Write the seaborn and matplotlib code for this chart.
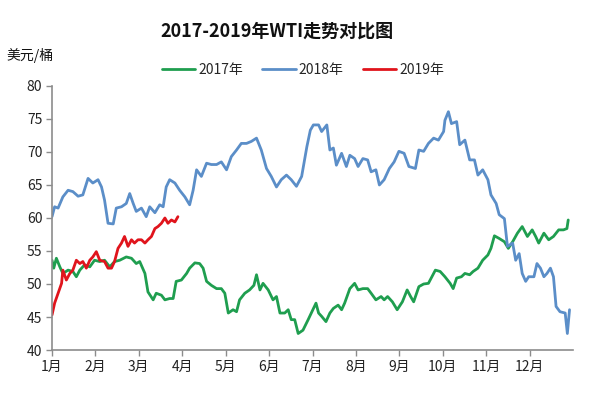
import matplotlib
matplotlib.use("Agg")
import matplotlib.pyplot as plt
import seaborn as sns
import pandas as pd
from matplotlib.lines import Line2D

# x positions are in months since 1 Jan (0 = 1月 start)
x_2017 = [0, 0.04, 0.10, 0.18, 0.25, 0.37, 0.48, 0.56, 0.64, 0.75, 0.87, 0.98, 1.10, 1.21, 1.33, 1.44,
          1.56, 1.71, 1.83, 1.94, 2.02, 2.14, 2.21, 2.33, 2.40, 2.52, 2.60, 2.71, 2.79, 2.86, 2.98, 3.10,
          3.17, 3.29, 3.40, 3.48, 3.56, 3.67, 3.79, 3.90, 3.98, 4.06, 4.17, 4.25, 4.32, 4.44, 4.55, 4.65,
          4.71, 4.79, 4.86, 4.98, 5.09, 5.17, 5.25, 5.36, 5.44, 5.51, 5.59, 5.67, 5.78, 5.90,
          6.08, 6.14, 6.21, 6.31, 6.40, 6.48, 6.59, 6.67, 6.74, 6.86, 6.97, 7.05, 7.16, 7.27, 7.35, 7.46,
          7.58, 7.65, 7.73, 7.84, 7.95, 8.07, 8.18, 8.26, 8.33, 8.45, 8.56, 8.67, 8.75, 8.83, 8.94, 9.05,
          9.17, 9.24, 9.32, 9.43, 9.51, 9.62, 9.70, 9.81, 9.92, 10.04, 10.11, 10.19, 10.30, 10.42, 10.51,
          10.61, 10.72, 10.83, 10.95, 11.06, 11.14, 11.21, 11.33, 11.44, 11.55, 11.67, 11.78, 11.86, 11.89]
y_2017 = [53.6, 52.4, 53.9, 52.6, 51.6, 52.1, 51.9, 51.1, 52.1, 52.9, 52.6, 53.6, 53.4, 53.6, 52.6, 53.4,
          53.6, 54.1, 53.9, 53.1, 53.4, 51.6, 48.8, 47.6, 48.6, 48.3, 47.6, 47.8, 47.8, 50.4, 50.6, 51.6,
          52.4, 53.2, 53.1, 52.4, 50.4, 49.8, 49.3, 49.3, 48.6, 45.6, 46.1, 45.8, 47.6, 48.6, 49.1, 49.8,
          51.4, 49.1, 50.1, 49.1, 47.6, 48.1, 45.6, 45.6, 46.1, 44.6, 44.6, 42.5, 43.0, 44.6,
          47.1, 45.6, 45.1, 44.3, 45.6, 46.3, 46.8, 46.1, 47.1, 49.3, 50.1, 49.1, 49.3, 49.3, 48.6, 47.6,
          48.1, 47.6, 48.1, 47.3, 46.1, 47.3, 49.1, 48.1, 47.3, 49.6, 50.0, 50.1, 51.1, 52.1, 51.9, 51.1,
          50.1, 49.3, 50.9, 51.1, 51.6, 51.4, 51.9, 52.4, 53.6, 54.4, 55.4, 57.3, 56.9, 56.4, 55.4,
          56.4, 57.7, 58.7, 57.2, 58.2, 57.2, 56.2, 57.7, 56.7, 57.2, 58.2, 58.2, 58.4, 59.7]

x_2018 = [0, 0.06, 0.14, 0.25, 0.37, 0.48, 0.60, 0.71, 0.83, 0.94, 1.06, 1.14, 1.21, 1.29, 1.41, 1.48,
          1.60, 1.71, 1.79, 1.87, 1.94, 2.06, 2.17, 2.25, 2.37, 2.48, 2.56, 2.63, 2.71, 2.83, 2.94, 3.06,
          3.17, 3.25, 3.33, 3.44, 3.56, 3.67, 3.79, 3.90, 4.02, 4.13, 4.25, 4.36, 4.48, 4.59, 4.71, 4.82,
          4.94, 5.05, 5.17, 5.28, 5.40, 5.51, 5.63, 5.75, 5.87, 5.95, 6.02, 6.14, 6.21, 6.33, 6.40, 6.48,
          6.55, 6.67, 6.78, 6.86, 6.97, 7.05, 7.16, 7.27, 7.35, 7.46, 7.54, 7.65, 7.77, 7.88, 7.99, 8.11,
          8.22, 8.37, 8.45, 8.56, 8.67, 8.79, 8.90, 9.02, 9.05, 9.13, 9.20, 9.32, 9.39, 9.51, 9.62, 9.73,
          9.81, 9.92, 10.04, 10.11, 10.23, 10.30, 10.42, 10.49, 10.61, 10.68, 10.76, 10.83, 10.91, 10.98,
          11.10, 11.17, 11.25, 11.33, 11.40, 11.48, 11.55, 11.61, 11.70, 11.82, 11.87, 11.92]
y_2018 = [60.2, 61.7, 61.5, 63.2, 64.2, 64.0, 63.3, 63.5, 66.0, 65.3, 65.8, 64.7, 62.7, 59.2, 59.1, 61.5,
          61.7, 62.2, 63.7, 62.2, 61.0, 61.5, 60.2, 61.7, 60.8, 62.0, 61.7, 64.7, 65.8, 65.3, 64.2, 63.2,
          62.0, 64.2, 67.3, 66.3, 68.3, 68.1, 68.1, 68.5, 67.3, 69.3, 70.3, 71.3, 71.3, 71.6, 72.1, 70.3,
          67.5, 66.3, 64.7, 65.8, 66.5, 65.8, 64.8, 66.3, 70.8, 73.3, 74.1, 74.1, 73.1, 74.1, 70.3, 70.6,
          68.0, 69.8, 67.8, 69.5, 69.0, 67.8, 69.0, 68.8, 67.0, 67.3, 65.0, 65.8, 67.5, 68.5, 70.1, 69.8,
          67.8, 67.5, 70.3, 70.1, 71.3, 72.1, 71.8, 73.1, 74.8, 76.1, 74.3, 74.6, 71.1, 71.8, 68.8, 68.8,
          66.5, 67.3, 65.8, 63.5, 62.2, 60.5, 59.9, 55.7, 56.2, 53.6, 54.6, 51.6, 50.4, 51.1,
          51.1, 53.1, 52.4, 51.1, 51.6, 52.4, 51.1, 46.6, 45.8, 45.6, 42.5, 46.1]

x_2019 = [0, 0.06, 0.14, 0.22, 0.25, 0.33, 0.41, 0.48, 0.56, 0.64, 0.71, 0.79, 0.87, 0.94, 1.02, 1.10,
          1.21, 1.29, 1.37, 1.44, 1.52, 1.60, 1.67, 1.75, 1.83, 1.90, 1.98, 2.06, 2.14, 2.21, 2.29, 2.37,
          2.44, 2.52, 2.60, 2.67, 2.75, 2.83, 2.90]
y_2019 = [45.3, 47.1, 48.6, 50.1, 52.1, 50.6, 51.6, 52.1, 53.6, 53.1, 53.4, 52.4, 53.6, 54.1, 54.9, 53.6,
          53.4, 52.4, 52.4, 53.4, 55.4, 56.2, 57.2, 55.7, 56.7, 56.2, 56.7, 56.7, 56.2, 56.7, 57.2, 58.4,
          58.7, 59.2, 60.0, 59.2, 59.7, 59.4, 60.2]

series_names = ["2017年", "2018年", "2019年"]
month_labels = [f"{i}月" for i in range(1, 13)]
y_ticks = [40, 45, 50, 55, 60, 65, 70, 75, 80]
title = "2017-2019年WTI走势对比图"
unit_label = "美元/桶"

df = pd.concat([
    pd.DataFrame({"x": x_2017, "price": y_2017, "year": series_names[0]}),
    pd.DataFrame({"x": x_2018, "price": y_2018, "year": series_names[1]}),
    pd.DataFrame({"x": x_2019, "price": y_2019, "year": series_names[2]}),
], ignore_index=True)

sns.set_theme(style="white")
plt.rcParams["font.family"] = ["Noto Sans CJK SC", "DejaVu Sans"]

palette = {"2017年": "#1f9e4f", "2018年": "#5b8ec8", "2019年": "#e0141c"}

fig = plt.figure(figsize=(6.0, 3.99), dpi=100)
ax = fig.add_axes([0.0867, 0.1228, 0.955 - 0.0867, 0.7845 - 0.1228])
sns.lineplot(data=df, x="x", y="price", hue="year", palette=palette, estimator=None,
             sort=False, linewidth=2.0, ax=ax, legend=False)

ax.set_xlim(0, 12.0)
ax.set_ylim(40, 80)
ax.set_xticks(range(12))
ax.set_xticklabels(month_labels, fontsize=10)
ax.set_yticks(y_ticks)
ax.set_yticklabels([str(v) for v in y_ticks], fontsize=10)
ax.set_xlabel("")
ax.set_ylabel("")
for s in ["top", "right"]:
    ax.spines[s].set_visible(False)
for s in ["left", "bottom"]:
    ax.spines[s].set_color("#8c8c8c")
    ax.spines[s].set_linewidth(1.2)
ax.tick_params(axis="both", direction="out", length=4, width=1, color="#8c8c8c",
               colors="#222222", pad=3)
ax.tick_params(axis="x", bottom=True)
ax.tick_params(axis="y", left=True)

fig.text(0.462, 0.922, title, ha="center", va="center", fontsize=13, fontweight="bold", color="#111111")
fig.text(0.01, 0.862, unit_label, ha="left", va="center", fontsize=10, color="#111111")

handles = [Line2D([], [], color=palette[n], linewidth=2.0) for n in series_names]
fig.legend(handles, series_names, loc="center", bbox_to_anchor=(0.505, 0.825), ncol=3,
           frameon=False, fontsize=10, handlelength=2.4, handletextpad=0.2, columnspacing=1.4)

fig.savefig("out.png", dpi=100)
